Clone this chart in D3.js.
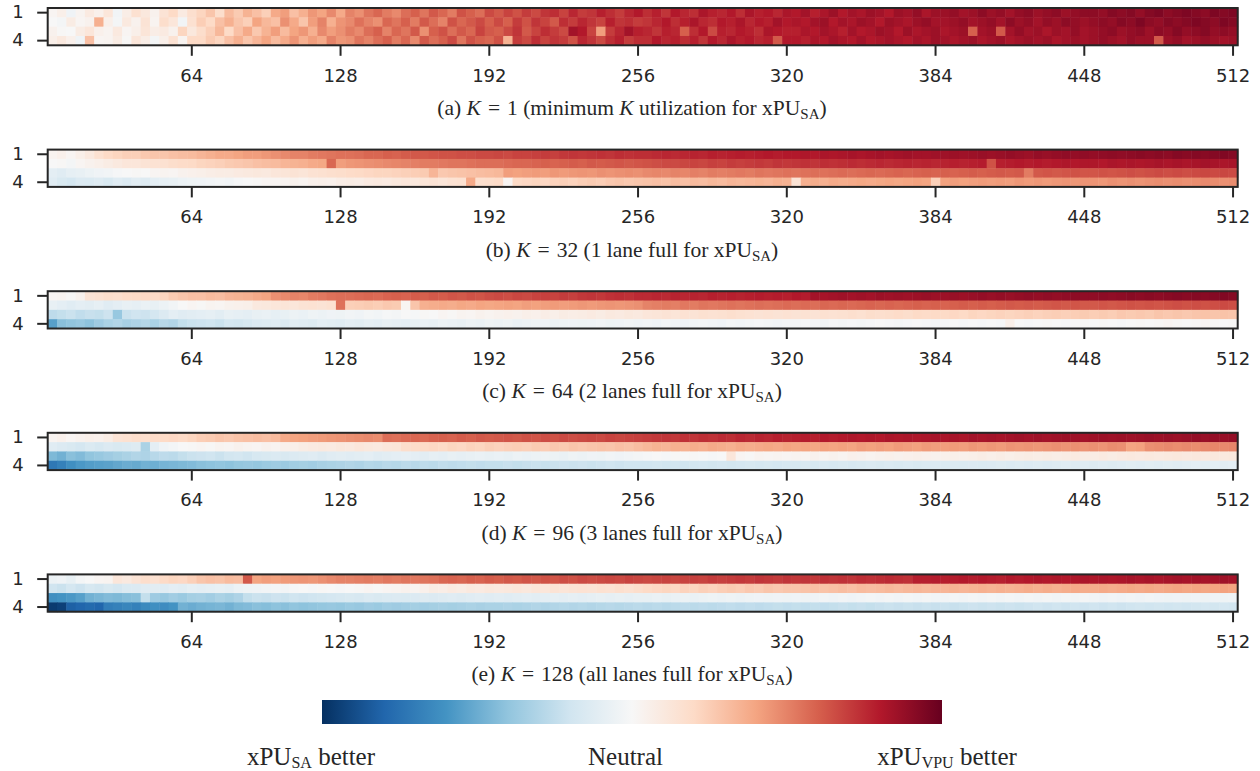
<!DOCTYPE html>
<html><head><meta charset="utf-8">
<script src="https://cdn.jsdelivr.net/npm/d3@7/dist/d3.min.js"></script>
<style>body{margin:0;background:#fff} svg{display:block}</style>
</head><body>
<svg id="chart" width="1260" height="771"></svg>
<script>
// ---- categories / ticks ----
const columns = [4,8,12,16,20,24,28,32,36,40,44,48,52,56,60,64,68,72,76,80,84,88,92,96,100,104,108,112,116,120,124,128,132,136,140,144,148,152,156,160,164,168,172,176,180,184,188,192,196,200,204,208,212,216,220,224,228,232,236,240,244,248,252,256,260,264,268,272,276,280,284,288,292,296,300,304,308,312,316,320,324,328,332,336,340,344,348,352,356,360,364,368,372,376,380,384,388,392,396,400,404,408,412,416,420,424,428,432,436,440,444,448,452,456,460,464,468,472,476,480,484,488,492,496,500,504,508,512];
const rowLabels = [1,2,3,4];
const xTickValues = [64,128,192,256,320,384,448,512];
const yTickValues = [1,4];
const panelLetters = ["a","b","c","d","e"];
const kValues = ["1","32","64","96","128"];
const captionNotes = ["minimum K utilization for","1 lane full for","2 lanes full for","3 lanes full for","all lanes full for"];
const legendLabels = [["xPU","SA"," better"],["Neutral","",""],["xPU","VPU"," better"]];
const rdbuColors = ["#053061","#2166ac","#4393c3","#92c5de","#d1e5f0","#f7f7f7","#fddbc7","#f4a582","#d6604d","#b2182b","#67001f"];

// ---- values (percent, -100 = xPU_SA better, +100 = xPU_VPU better) ----
// (a) K = 1
const aRow1 = [2,6,-4,3,9,5,12,-3,7,16,11,4,14,20,9,17, 22,28,18,32,26,35,30,24,38,42,30,36,44,40,48,38, 50,46,54,58,52,48,56,60,54,62,58,52,64,60,56,66, 62,68,64,70,66,72,74,68,76,70,72,78,74,70,76,80, 74,78,72,80,76,74,82,78,76,80,74,82,78,80,76,82, 80,84,78,82,86,80,84,82,86,84,80,86,84,88,82,86, 86,88,84,86,90,86,88,84,88,90,86,88,90,86,88,90, 90,88,92,90,92,88,92,94,90,92,94,92,90,94,92,94];
const aRow2 = [0,-2,8,2,4,36,6,-2,10,4,14,3,18,12,-3,16, 25,20,30,36,28,24,40,33,30,46,38,28,42,50,36,45, 48,55,50,46,58,54,60,52,62,56,50,64,58,62,66,60, 66,60,70,64,72,68,62,74,70,76,72,68,78,72,74,70, 72,76,80,74,78,82,76,74,80,78,82,76,80,78,84,80, 82,80,84,86,80,84,82,86,84,80,86,84,82,86,88,84, 84,86,88,84,86,88,84,90,86,88,84,88,86,90,88,86, 88,90,88,92,90,94,90,88,92,90,92,94,92,90,94,92];
const aRow3 = [4,1,0,8,12,5,3,10,2,6,13,7,9,4,22,11, 18,24,33,20,30,38,27,35,42,32,40,44,36,48,42,46, 52,48,56,60,50,58,54,62,46,60,64,56,62,58,68,62, 60,66,72,62,68,74,70,66,84,80,68,42,70,76,84,78, 76,72,78,76,60,74,80,66,78,76,80,78,74,82,80,78, 78,82,80,84,82,78,84,80,82,86,84,80,86,82,84,86, 82,84,86,60,84,86,62,84,88,84,86,82,86,84,88,84, 86,88,90,86,88,90,86,90,88,92,88,90,92,88,90,88];
const aRow4 = [6,10,5,-4,30,2,3,8,1,12,7,-2,6,15,3,20, 20,26,22,30,36,28,34,40,32,38,45,36,42,38,50,44, 46,54,50,56,60,52,58,48,62,56,60,66,54,64,60,58, 64,35,70,66,74,68,72,70,64,76,72,66,74,78,70,74, 74,80,76,78,74,78,72,80,76,82,78,80,76,78,62,80, 80,78,82,80,84,82,80,84,80,82,84,82,80,84,82,86, 84,82,84,86,82,84,86,82,84,86,84,86,82,84,86,84, 86,88,86,84,88,86,86,62,86,88,84,86,88,86,84,86];
// (b) K = 32
const bRow1 = [3,5,2,6,10,16,20,22,24,24,27,28,28,30,31,32, 34,36,38,38,40,42,42,44,46,48,50,50,52,53,54,55, 55,56,58,58,60,59,61,62,62,63,64,64,65,65,66,66, 67,66,68,68,69,70,69,71,72,71,72,73,72,74,73,74, 74,75,76,75,76,77,76,78,77,78,79,78,79,80,79,80, 80,81,80,82,81,82,83,82,83,84,83,84,85,84,84,85, 85,86,85,86,87,86,87,88,87,86,88,87,88,89,88,89, 88,89,90,89,90,91,90,91,90,92,91,92,91,92,93,92];
const bRow2 = [0,1,-2,2,4,6,8,10,12,12,14,15,16,18,19,20, 22,23,24,26,27,28,30,31,32,34,35,36,38,39,58,42, 44,45,46,47,48,49,50,51,52,52,53,54,54,55,56,56, 56,57,58,58,59,60,59,60,61,60,62,61,62,63,62,63, 64,65,66,66,67,68,67,69,68,70,69,70,71,70,72,71, 72,73,72,74,73,74,75,74,75,76,75,76,77,76,77,76, 77,78,77,78,79,64,78,79,80,79,80,79,80,81,80,81, 81,80,82,81,82,81,82,83,82,83,82,83,84,83,82,83];
const bRow3 = [-10,-12,-9,-8,-6,-4,-3,-1,0,1,0,2,3,2,4,5, 6,7,8,8,9,10,11,10,12,13,14,13,15,16,17,18, 19,20,21,22,22,23,24,25,26,34,27,28,29,30,31,32, 33,42,41,42,43,42,44,43,44,45,44,46,45,46,47,46, 48,49,48,50,49,51,50,52,51,52,53,52,54,53,54,55, 54,55,56,55,56,57,56,57,58,57,58,59,58,59,60,59, 60,59,60,61,60,61,62,61,62,52,62,63,62,63,64,63, 63,64,63,64,65,64,65,66,65,66,65,66,67,66,67,66];
const bRow4 = [-12,-16,-18,-14,-15,-13,-16,-12,-14,-11,-13,-10,-9,-8,-6,-5, -4,-3,-2,-3,-1,0,1,2,2,3,4,3,5,6,5,7, 8,7,9,10,9,11,12,11,13,14,13,15,16,38,17,18, 19,2,20,21,22,21,23,24,23,25,26,25,27,28,27,28, 29,30,29,31,30,32,31,33,32,34,33,34,35,34,36,35, 14,36,37,36,38,37,38,39,38,39,40,39,40,41,40,24, 41,42,41,42,43,42,43,42,44,43,44,43,44,45,44,45, 45,44,46,45,46,45,46,47,46,47,46,47,48,47,46,47];
// (c) K = 64
const cRow1 = [2,3,1,4,14,16,18,17,19,20,21,20,22,26,28,30, 30,32,31,34,35,36,38,40,46,48,50,49,52,53,55,56, 56,57,58,57,59,60,59,61,60,62,61,63,62,64,63,65, 66,65,67,66,68,69,68,70,69,71,72,71,73,74,73,75, 75,76,75,77,76,77,76,78,77,78,77,78,79,78,79,78, 80,79,84,83,84,85,84,85,84,86,85,86,85,86,87,86, 86,87,86,87,88,87,88,87,88,89,88,89,88,89,90,89, 89,90,89,90,91,90,91,90,91,92,91,92,91,92,93,92];
const cRow2 = [-8,-10,-12,-10,-11,-9,-12,-10,-8,-9,-7,-8,-6,-3,0,2, 1,3,2,4,5,6,10,11,12,13,12,14,15,14,16,55, 24,25,26,25,27,26,2,28,36,37,38,37,39,38,40,39, 40,41,40,42,41,42,43,42,43,44,43,44,45,44,45,46, 50,51,52,51,53,52,54,53,54,55,54,55,56,55,56,57, 56,57,56,58,57,58,57,58,59,58,59,58,59,60,59,60, 59,60,61,60,61,60,61,62,61,62,61,62,63,62,63,62, 62,63,62,63,64,63,64,63,64,65,64,65,64,65,66,65];
const cRow3 = [-26,-24,-22,-25,-23,-24,-21,-38,-22,-20,-21,-18,-14,-10,-12,-11, -10,-9,-11,-8,-9,-10,-8,-7,-9,-8,-6,-7,-5,-6,-4,-5, -3,-4,-2,-3,-1,-2,0,-1,1,0,2,1,3,2,4,3, 4,5,4,6,5,7,6,8,7,8,9,8,10,9,11,10, 12,13,14,13,15,14,16,15,16,17,16,15,14,15,14,15, 14,15,14,16,15,16,17,16,18,17,18,19,18,20,19,20, 20,21,20,22,21,22,23,22,23,24,23,24,25,24,25,26, 25,26,25,27,26,27,26,28,27,28,27,28,29,28,29,28];
const cRow4 = [-55,-42,-40,-38,-41,-36,-32,-30,-33,-31,-29,-32,-28,-30,-24,-22, -21,-20,-22,-18,-19,-17,-14,-13,-12,-14,-11,-12,-13,-10,-11,-12, -10,-11,-9,-10,-8,-9,-10,-8,-7,-8,-6,-7,-8,-6,-7,-5, -6,-5,-7,-6,-5,-4,-6,-5,-4,-5,-4,-3,-5,-4,-3,-4, -3,-4,-2,-3,-4,-3,-2,-3,-4,-2,-3,-2,-1,-2,-3,-2, -2,-1,-2,-3,-1,-2,-1,-2,-1,0,-1,-2,-1,0,-1,-2, -1,0,-1,0,-1,0,-1,6,0,-1,0,1,0,-1,0,1, 0,1,0,-1,0,1,0,1,2,1,0,1,2,1,0,1];
// (d) K = 96
const dRow1 = [3,5,2,4,6,5,8,14,16,18,17,19,20,21,20,22, 25,26,28,27,29,30,31,30,32,38,40,41,42,43,44,45, 46,47,48,47,56,55,57,58,57,59,60,59,61,60,62,61, 62,63,62,64,63,65,64,66,65,66,67,66,68,67,68,69, 70,71,72,71,73,72,74,73,75,74,76,75,77,76,78,77, 78,79,78,80,79,80,81,80,81,80,82,81,82,81,82,83, 82,83,82,84,83,84,83,84,85,84,85,84,85,86,85,84, 85,86,85,86,85,86,87,86,87,86,87,88,87,88,87,88];
const dRow2 = [-12,-14,-16,-18,-15,-17,-14,-16,-15,-13,-32,-10,-4,-2,0,1, 2,1,3,2,4,3,2,4,3,5,6,8,9,10,9,11, 10,12,11,10,12,13,18,19,20,21,20,22,21,23,22,24, 23,24,25,24,26,25,27,26,28,27,28,29,28,30,29,31, 33,35,34,36,35,37,36,38,37,36,38,37,38,39,38,40, 39,40,39,41,40,41,40,42,41,42,41,43,42,41,43,42, 42,43,42,44,43,44,43,45,44,45,44,45,46,45,46,45, 46,45,47,46,40,41,46,47,48,47,48,47,48,49,48,49];
const dRow3 = [-45,-48,-42,-44,-40,-38,-36,-34,-32,-30,-31,-28,-26,-27,-24,-22, -21,-20,-22,-19,-18,-20,-17,-16,-15,-16,-14,-13,-12,-14,-12,-11, -12,-11,-10,-12,-11,-10,-9,-10,-11,-9,-10,-8,-9,-8,-7,-8, -7,-8,-6,-7,-6,-5,-6,-7,-5,-6,-4,-5,-3,-4,-3,-2, -1,0,-1,1,0,1,0,-1,0,12,2,1,3,2,3,2, 3,2,4,3,4,3,5,4,3,4,5,4,5,6,5,4, 5,6,5,6,7,6,7,6,7,8,7,8,7,8,9,8, 8,9,8,9,10,9,10,9,10,11,10,11,10,11,10,11];
const dRow4 = [-72,-68,-62,-58,-56,-55,-54,-52,-50,-51,-48,-49,-47,-46,-45,-44, -42,-41,-40,-41,-39,-38,-39,-37,-36,-37,-35,-34,-35,-33,-32,-31, -30,-31,-29,-30,-28,-29,-27,-28,-26,-27,-25,-26,-25,-24,-25,-24, -24,-23,-24,-23,-22,-23,-22,-21,-22,-21,-22,-21,-20,-21,-20,-20, -20,-19,-20,-19,-20,-19,-18,-19,-18,-19,-18,-17,-18,-17,-18,-17, -17,-16,-17,-16,-17,-16,-17,-16,-15,-16,-15,-16,-15,-16,-15,-14, -15,-14,-15,-14,-15,-14,-13,-14,-13,-14,-13,-14,-13,-12,-13,-12, -13,-12,-13,-12,-11,-12,-11,-12,-11,-12,-11,-10,-11,-10,-11,-10];
// (e) K = 128
const eRow1 = [-6,-4,-8,-2,0,2,3,12,10,14,18,16,20,22,21,24, 28,30,29,32,31,62,40,42,41,43,44,45,44,46,48,50, 50,51,52,51,53,52,54,53,54,55,58,59,58,60,59,61, 60,62,61,63,62,64,63,65,64,66,65,66,67,66,68,67, 66,67,68,67,68,69,68,70,69,70,71,70,72,71,70,72, 71,72,71,73,72,73,72,74,73,74,75,74,73,78,78,79, 78,79,80,79,80,79,78,80,79,80,81,80,81,80,81,82, 81,82,81,82,83,82,83,82,83,84,83,84,83,84,85,84];
const eRow2 = [-20,-22,-18,-21,-17,-19,-16,-18,-15,-14,-12,-11,-12,-10,-11,-9, -10,-9,-8,-9,-6,-5,-4,-3,-2,-3,-1,0,-1,1,0,-1, 0,1,2,1,2,3,4,3,5,8,7,9,8,10,9,11, 10,11,12,11,13,12,14,13,14,15,14,16,15,17,16,18, 20,21,22,21,23,22,24,23,25,26,25,27,26,28,27,28, 28,29,30,29,30,31,30,32,31,32,33,32,33,34,33,34, 34,35,34,35,36,35,36,35,36,37,36,37,36,37,38,37, 37,38,37,38,39,38,39,38,39,40,39,40,39,40,41,40];
const eRow3 = [-62,-60,-58,-55,-48,-46,-44,-45,-43,-42,-24,-36,-38,-35,-37,-34, -33,-35,-32,-34,-31,-24,-22,-23,-21,-22,-20,-21,-20,-19,-18,-17, -16,-17,-15,-16,-15,-14,-15,-14,-13,-14,-13,-12,-13,-12,-11,-12, -11,-12,-11,-10,-11,-10,-9,-10,-9,-10,-9,-8,-9,-8,-9,-8, -8,-7,-8,-7,-6,-7,-6,-5,-6,-5,-6,-5,-4,-5,-4,-5, -4,-5,-4,-3,-4,-3,-4,-3,-2,-3,-2,-3,-2,-3,-2,-3, -3,-2,-3,-2,-3,-2,-3,-2,-3,-2,-3,-2,-3,-2,-3,-2, -3,-4,-3,-4,-3,-4,-3,-4,-5,-4,-5,-4,-5,-4,-5,-4];
const eRow4 = [-96,-94,-82,-80,-78,-80,-70,-68,-66,-68,-64,-62,-63,-60,-48,-50, -48,-47,-46,-48,-45,-44,-42,-43,-41,-42,-40,-41,-40,-39,-38,-39, -37,-38,-36,-37,-35,-36,-35,-34,-35,-34,-33,-34,-33,-32,-33,-32, -32,-31,-32,-31,-30,-31,-30,-29,-30,-29,-30,-29,-28,-29,-28,-27, -28,-27,-28,-27,-26,-27,-26,-27,-26,-25,-26,-25,-26,-25,-24,-25, -24,-25,-24,-25,-24,-23,-24,-23,-24,-23,-22,-23,-22,-23,-22,-23, -22,-23,-22,-21,-22,-21,-22,-21,-22,-21,-20,-21,-20,-21,-20,-21, -20,-21,-20,-21,-20,-19,-20,-19,-20,-19,-20,-19,-18,-19,-18,-19];

const panelRows = [[aRow1,aRow2,aRow3,aRow4],[bRow1,bRow2,bRow3,bRow4],[cRow1,cRow2,cRow3,cRow4],[dRow1,dRow2,dRow3,dRow4],[eRow1,eRow2,eRow3,eRow4]];

// ---- drawing ----
const svg = d3.select("#chart");
const ink = "#262626";
const serif = "'Liberation Serif','Times New Roman',serif";
const sans = "'DejaVu Sans',sans-serif";
const left = 47.7, right = 1237.7, panelH = 37.3, top0 = 8, step = 141.6, capCx = 632;

const x = d3.scaleBand().domain(columns).range([left, right]).padding(0);
const y = d3.scaleBand().domain(rowLabels).range([0, panelH]).padding(0);
const stopDomain = rdbuColors.map((c, i) => -100 + 20 * i);
const color = d3.scaleLinear().domain(stopDomain).range(rdbuColors).clamp(true);

panelRows.forEach((rows, p) => {
  const g = svg.append("g").attr("transform", `translate(0,${top0 + step * p})`);
  const cells = [];
  rows.forEach((vals, r) => vals.forEach((v, c) => cells.push({r: rowLabels[r], c: columns[c], v})));
  g.selectAll("rect.cell").data(cells).join("rect")
    .attr("class", "cell")
    .attr("x", d => x(d.c)).attr("y", d => y(d.r))
    .attr("width", x.bandwidth() + 0.5).attr("height", y.bandwidth() + 0.5)
    .attr("fill", d => color(d.v));
  g.append("rect").attr("x", left).attr("y", 0).attr("width", right - left).attr("height", panelH)
    .attr("fill", "none").attr("stroke", ink).attr("stroke-width", 2);

  const xa = g.append("g").attr("transform", `translate(0,${panelH})`)
    .call(d3.axisBottom(x).tickValues(xTickValues).tickSize(10.5).tickPadding(13));
  const ya = g.append("g").attr("transform", `translate(${left},0)`)
    .call(d3.axisLeft(y).tickValues(yTickValues).tickSize(10.5).tickPadding(13.5));
  [xa, ya].forEach(a => {
    a.select(".domain").remove();
    a.selectAll(".tick line").attr("stroke", ink).attr("stroke-width", 2);
    a.selectAll(".tick text").attr("fill", ink).style("font-family", sans).style("font-size", "18px");
  });

  // caption
  const t = svg.append("text").attr("x", capCx).attr("y", top0 + step * p + 107)
    .attr("text-anchor", "middle").attr("fill", ink)
    .style("font-family", serif).style("font-size", "21.5px");
  t.append("tspan").text(`(${panelLetters[p]}) `);
  t.append("tspan").style("font-style", "italic").text("K");
  t.append("tspan").attr("dx", 7).text("=");
  t.append("tspan").attr("dx", 7).text(`${kValues[p]} (`);
  const words = captionNotes[p].split(" ");
  words.forEach((w, i) => {
    const s = t.append("tspan").text(w + " ");
    if (w === "K") s.style("font-style", "italic");
  });
  t.append("tspan").text("xPU");
  t.append("tspan").attr("dy", 4).style("font-size", "15px").text("SA");
  t.append("tspan").attr("dy", -4).text(")");
});

// ---- colour bar ----
const defs = svg.append("defs");
const grad = defs.append("linearGradient").attr("id", "cbar").attr("x1", "0%").attr("x2", "100%");
grad.selectAll("stop").data(rdbuColors).join("stop")
  .attr("offset", (d, i) => `${i * 10}%`).attr("stop-color", d => d);
const cbScale = d3.scaleLinear().domain([-100, 100]).range([322, 942]);
svg.append("rect").attr("x", cbScale(-100)).attr("y", 700).attr("width", cbScale(100) - cbScale(-100)).attr("height", 24)
  .attr("fill", "url(#cbar)");

const legendX = [311, 625.5, 947];
legendLabels.forEach((parts, i) => {
  const t = svg.append("text").attr("x", legendX[i]).attr("y", 764.5).attr("text-anchor", "middle")
    .attr("fill", ink).style("font-family", serif).style("font-size", "25px");
  t.append("tspan").text(parts[0]);
  if (parts[1]) {
    t.append("tspan").attr("dy", 3).style("font-size", "16px").text(parts[1]);
    t.append("tspan").attr("dy", -3).text(parts[2]);
  }
});
</script>
</body></html>
